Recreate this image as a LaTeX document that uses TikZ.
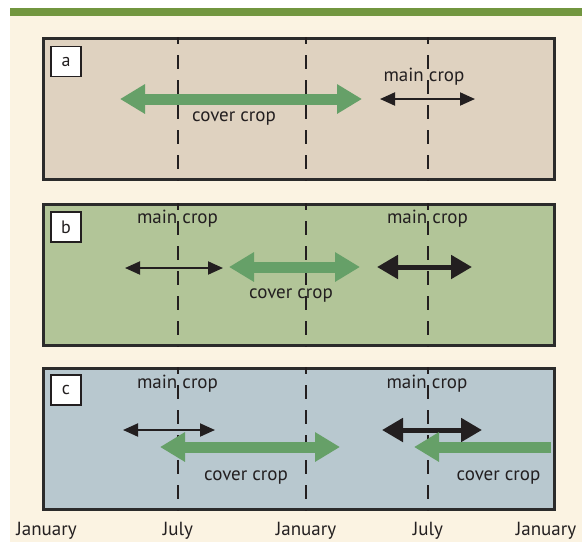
\documentclass[tikz,border=0pt]{standalone}
\usepackage{fontspec}
\setmainfont{PT Sans}
\usepackage{xcolor}
\usetikzlibrary{arrows.meta,positioning}

\definecolor{cream}{HTML}{FBF3E2}
\definecolor{bargreen}{HTML}{72963F}
\definecolor{tanfill}{HTML}{DFD2C0}
\definecolor{greenfill}{HTML}{B2C598}
\definecolor{bluefill}{HTML}{B8C8CF}
\definecolor{covergreen}{HTML}{66A068}
\definecolor{inkgray}{HTML}{231F20}
\definecolor{framegray}{HTML}{2B2B2B}

\tikzset{
    covertip/.tip={Triangle[length=25pt, width=28pt]},
    thintip/.tip={Triangle[length=15pt, width=13pt]},
    thicktip/.tip={Triangle[length=21pt, width=23pt]}
}

\begin{document}
\begin{tikzpicture}[x=1pt, y=-1pt]
        \tikzstyle{panel} = [draw=framegray, line width=2.8pt, minimum width=511pt, minimum height=141pt, anchor=north west, inner sep=0pt]
        \tikzstyle{tag} = [draw=inkgray, line width=1.8pt, fill=white, minimum size=30pt, inner sep=0pt, font=\fontsize{18}{18}\selectfont, text=inkgray]
        \tikzstyle{lbl} = [font=\fontsize{19}{20}\selectfont, text=inkgray, inner sep=0pt, anchor=base]
        \tikzstyle{monthline} = [inkgray, line width=2pt, dash pattern=on 14pt off 11pt, dash phase=7pt]
        \tikzstyle{cover} = [covertip-covertip, line width=11pt, covergreen]
        \tikzstyle{thinmain} = [thintip-thintip, line width=2pt, inkgray]
        \tikzstyle{thickmain} = [thicktip-thicktip, line width=5pt, inkgray]

        % background and top bar
        \fill[white] (0,0) rectangle (582,542);
        \fill[cream] (10,16) rectangle (582,542);
        \fill[bargreen] (10,8) rectangle (582,16);

        % panels
        \node (pa) [panel, fill=tanfill] at (42,37) {};
        \node (pb) [panel, fill=greenfill] at (42,203) {};
        \node (pc) [panel, fill=bluefill] at (42,367) {};

        \foreach \p in {pa,pb,pc} {
            \foreach \x in {178,306,428}
                \draw[monthline] (\p.north west -| \x,0) -- (\p.south west -| \x,0);
        }

        \node (ta) [tag] at (66,61.5) {a};
        \node (tb) [tag] at (66,227) {b};
        \node (tc) [tag] at (66,390) {c};

        % panel a
        \coordinate (acov1) at (120,99);
        \coordinate (acov2) at (362,99);
        \coordinate (amain1) at (380,99);
        \coordinate (amain2) at (475,99);
        \draw[cover] (acov1) -- (acov2);
        \draw[thinmain] (amain1) -- (amain2);
        \node (acovtxt) [lbl] at (234,121) {cover crop};
        \node (amaintxt) [lbl] at (424,81) {main crop};

        % panel b
        \coordinate (bmain1) at (125,268);
        \coordinate (bmain2) at (223,268);
        \coordinate (bcov1) at (229,267);
        \coordinate (bcov2) at (360,267);
        \coordinate (bmain3) at (377,267);
        \coordinate (bmain4) at (472,267);
        \draw[thinmain] (bmain1) -- (bmain2);
        \draw[cover] (bcov1) -- (bcov2);
        \draw[thickmain] (bmain3) -- (bmain4);
        \node (bmaintxt1) [lbl] at (177.5,223) {main crop};
        \node (bmaintxt2) [lbl] at (427.5,223) {main crop};
        \node (bcovtxt) [lbl] at (291,298) {cover crop};

        % panel c
        \coordinate (cmain1) at (123,430);
        \coordinate (cmain2) at (215,430);
        \coordinate (ccov1) at (160,447);
        \coordinate (ccov2) at (340,447);
        \coordinate (cmain3) at (382,430);
        \coordinate (cmain4) at (482,430);
        \coordinate (ccov3) at (414,447);
        \coordinate (ccov4) at (551,447);
        \draw[thinmain] (cmain1) -- (cmain2);
        \draw[cover] (ccov1) -- (ccov2);
        \draw[thickmain] (cmain3) -- (cmain4);
        \draw[cover, covertip-] (ccov3) -- (ccov4);
        \node (cmaintxt1) [lbl] at (177.5,388) {main crop};
        \node (cmaintxt2) [lbl] at (427,388) {main crop};
        \node (ccovtxt1) [lbl] at (246,480) {cover crop};
        \node (ccovtxt2) [lbl] at (498.5,480) {cover crop};

        % months
        \node (m1) [lbl] at (46.5,535) {January};
        \node (m2) [lbl] at (178,535) {July};
        \node (m3) [lbl] at (306,535) {January};
        \node (m4) [lbl] at (428,535) {July};
        \node (m5) [lbl] at (546,535) {January};
\end{tikzpicture}
\end{document}
